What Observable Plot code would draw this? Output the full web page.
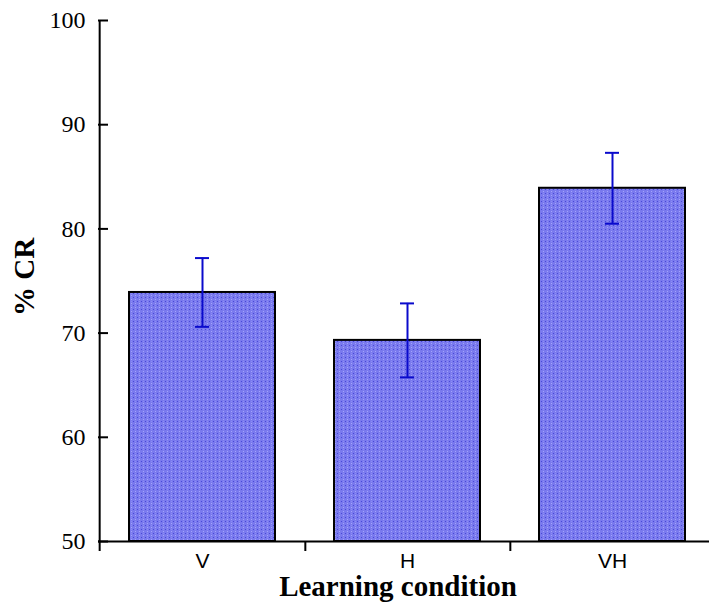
<!DOCTYPE html>
<html>
<head>
<meta charset="utf-8">
<script src="https://cdn.jsdelivr.net/npm/d3@7"></script>
<script src="https://cdn.jsdelivr.net/npm/@observablehq/plot@0.6"></script>
<style>
  html, body { margin: 0; padding: 0; background: #fff; }
  #chart svg { display: block; }
</style>
</head>
<body>
<svg width="0" height="0" style="position:absolute">
  <defs>
    <pattern id="dots" width="4" height="4" patternUnits="userSpaceOnUse">
      <rect width="4" height="4" fill="#7a7aee"></rect>
      <rect x="1" y="1" width="1" height="1" fill="#4848d8"></rect>
      <rect x="3" y="3" width="1" height="1" fill="#a4a4fa"></rect>
      <rect x="3" y="1" width="1" height="1" fill="#8c8cf4"></rect>
    </pattern>
  </defs>
</svg>
<div id="chart"></div>
<script>
const categories = ["V", "H", "VH"];
const means = [73.9, 69.3, 83.9];
const errors = [3.3, 3.55, 3.4];
const yTicks = [50, 60, 70, 80, 90, 100];

const data = categories.map((c, i) => ({cond: c, mean: means[i], lo: means[i] - errors[i], hi: means[i] + errors[i]}));

const W = 709, H = 602;
const left = 98, rangeEnd = 715;
const step = (rangeEnd - left) / categories.length;
const bandwidth = step * 0.71;

const plot = Plot.plot({
  width: W,
  height: H,
  marginLeft: left,
  marginRight: 0,
  marginTop: 20,
  marginBottom: 61,
  style: {fontFamily: "Liberation Serif", fontSize: "24px", color: "black", background: "white"},
  x: {domain: categories, range: [left, rangeEnd], paddingInner: 0.29, paddingOuter: 0.145, label: null},
  y: {domain: [50, 100], label: null},
  marks: [
    Plot.barY(data, {x: "cond", y1: 50, y2: "mean", fill: "url(#dots)", stroke: "black", strokeWidth: 2}),
    Plot.ruleX(data, {x: "cond", y1: "lo", y2: "hi", stroke: "#0a0acc", strokeWidth: 2}),
    Plot.tickY(data, {x: "cond", y: "lo", stroke: "#0a0acc", strokeWidth: 2, insetLeft: (bandwidth - 14) / 2, insetRight: (bandwidth - 14) / 2}),
    Plot.tickY(data, {x: "cond", y: "hi", stroke: "#0a0acc", strokeWidth: 2, insetLeft: (bandwidth - 14) / 2, insetRight: (bandwidth - 14) / 2}),
    Plot.ruleY([50], {stroke: "black", strokeWidth: 2}),
    Plot.ruleX(["V"], {x: d => d, dx: -step / 2, y1: 49.04, y2: 100, stroke: "black", strokeWidth: 2}),
    Plot.ruleX(["V", "H"], {x: d => d, dx: step / 2, y1: 49.04, y2: 50, stroke: "black", strokeWidth: 2}),
    Plot.axisY(yTicks, {tickSize: -10, tickPadding: 23, strokeWidth: 2, fontSize: 24, fontFamily: "Liberation Serif", label: null}),
    Plot.axisX({tickSize: 0, tickPadding: 12, fontSize: 21, fontFamily: "Liberation Sans", label: null}),
    Plot.text(["% CR"], {frameAnchor: "left", textAnchor: "middle", lineAnchor: "middle", dx: -74, dy: -4, rotate: -90, fontSize: 29, fontWeight: "bold", fontFamily: "Liberation Serif"}),
    Plot.text(["Learning condition"], {frameAnchor: "bottom", lineAnchor: "middle", dx: -6, dy: 45, fontSize: 29, fontWeight: "bold", fontFamily: "Liberation Serif"})
  ]
});
document.getElementById("chart").appendChild(plot);
</script>
</body>
</html>
